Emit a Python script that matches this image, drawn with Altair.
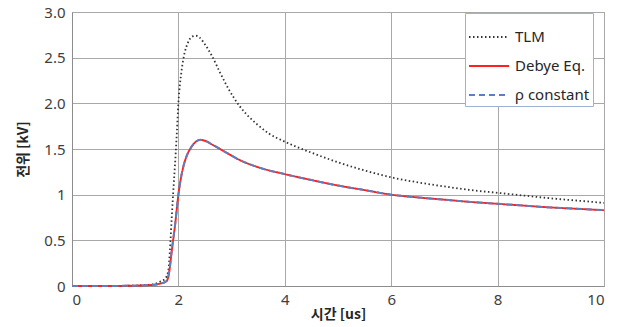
import altair as alt
import pandas as pd

series_names = ["TLM", "Debye Eq.", "ρ constant"]

t_tlm = [0, 0.5, 1.0, 1.2, 1.4, 1.53, 1.65, 1.75, 1.81, 1.84, 1.875, 1.90, 1.95, 1.97, 2.0,
         2.06, 2.12, 2.17, 2.22, 2.28, 2.33, 2.40, 2.47, 2.55, 2.63, 2.78, 2.95, 3.15, 3.47,
         3.7, 4.0, 4.5, 5.0, 5.5, 6.0, 6.5, 7.0, 7.5, 8.0, 8.5, 9.0, 9.5, 10.0]
v_tlm = [0, 0, 0.002, 0.005, 0.012, 0.02, 0.045, 0.08, 0.165, 0.385, 0.75, 1.0, 1.46, 1.67, 2.0,
         2.36, 2.56, 2.65, 2.71, 2.735, 2.74, 2.72, 2.67, 2.60, 2.52, 2.34, 2.15, 1.97, 1.775,
         1.67, 1.58, 1.46, 1.355, 1.265, 1.19, 1.135, 1.09, 1.05, 1.02, 0.99, 0.96, 0.935, 0.91]

t_debye = [0, 0.5, 1.0, 1.2, 1.4, 1.47, 1.65, 1.78, 1.83, 1.875, 1.94, 2.0, 2.09, 2.16, 2.22,
           2.3, 2.41, 2.5, 2.66, 2.9, 3.15, 3.5, 4.0, 4.5, 5.0, 5.5, 6.0, 6.5, 7.0, 7.5, 8.0,
           8.5, 9.0, 9.5, 10.0]
v_debye = [0, 0, 0.002, 0.004, 0.008, 0.01, 0.025, 0.055, 0.165, 0.385, 0.68, 1.0, 1.3, 1.43, 1.50,
           1.565, 1.60, 1.59, 1.54, 1.46, 1.38, 1.30, 1.225, 1.16, 1.10, 1.05, 1.0, 0.97, 0.945, 0.92, 0.9,
           0.88, 0.86, 0.845, 0.83]

t_rho = list(t_debye)
v_rho = [0, 0, 0.002, 0.004, 0.008, 0.01, 0.025, 0.055, 0.165, 0.385, 0.68, 1.0, 1.3, 1.43, 1.50,
         1.565, 1.60, 1.59, 1.54, 1.46, 1.38, 1.30, 1.225, 1.16, 1.10, 1.05, 1.0, 0.97, 0.945, 0.92, 0.9,
         0.88, 0.86, 0.845, 0.83]

x_ticks = [0, 2, 4, 6, 8, 10]
y_ticks = [0, 0.5, 1, 1.5, 2, 2.5, 3]

rows = []
for name, ts, vs in [(series_names[0], t_tlm, v_tlm),
                     (series_names[1], t_debye, v_debye),
                     (series_names[2], t_rho, v_rho)]:
    for i, (t, v) in enumerate(zip(ts, vs)):
        rows.append({"series": name, "t": t, "v": v, "order": i})
df = pd.DataFrame(rows)

label_font = "Noto Sans"
kr_font = "Noto Sans CJK KR"

chart = alt.Chart(df).mark_line(interpolate="monotone").encode(
    x=alt.X("t:Q", title="시간 [us]",
            scale=alt.Scale(domain=[0, 10], nice=False),
            axis=alt.Axis(values=x_ticks, grid=True, gridColor="#a8a8a8", tickSize=0,
                          labelPadding=6, domainColor="#8c8c8c", labelFontSize=15,
                          labelColor="#404040", labelFont=label_font,
                          labelExpr="'' + datum.value",
                          titleFont=kr_font, titleFontSize=14, titleFontWeight="bold",
                          titleColor="#262626", titlePadding=0)),
    y=alt.Y("v:Q", title="전위 [kV]",
            scale=alt.Scale(domain=[0, 3], nice=False),
            axis=alt.Axis(values=y_ticks, grid=True, gridColor="#a8a8a8", tickSize=0,
                          labelPadding=7, domainColor="#8c8c8c", labelFontSize=15,
                          labelColor="#404040", labelFont=label_font,
                          labelExpr="datum.value == 3 ? '3.0' : datum.value == 2 ? '2.0' : '' + datum.value",
                          titleFont=kr_font, titleFontSize=14, titleFontWeight="bold",
                          titleColor="#262626", titlePadding=13)),
    color=alt.Color("series:N", title=None,
                    scale=alt.Scale(domain=series_names, range=["#333333", "#ff2020", "#5a80c0"]),
                    sort=series_names,
                    legend=alt.Legend(orient="none", legendX=393, legendY=1,
                                      symbolType="stroke", symbolSize=1600,
                                      symbolStrokeWidth=2, labelFontSize=15,
                                      labelFont=label_font, labelColor="#262626",
                                      strokeColor="#9db3d6", fillColor="white",
                                      padding=3, rowPadding=-6, labelOffset=5)),
    strokeDash=alt.StrokeDash("series:N", title=None,
                              scale=alt.Scale(domain=series_names,
                                              range=[[1.5, 2.5], [1, 0], [6, 4]]),
                              sort=series_names),
    strokeWidth=alt.StrokeWidth("series:N", title=None,
                                scale=alt.Scale(domain=series_names, range=[1.8, 2, 2]),
                                sort=series_names),
    order="order:Q",
).properties(
    width=532, height=274,
    autosize=alt.AutoSizeParams(type="none"),
    padding={"left": 72, "top": 12, "right": 20, "bottom": 41},
).configure_view(stroke="#a0a0a0", strokeWidth=1)

chart.save("out.html", embed_options={"renderer": "svg", "actions": False})
